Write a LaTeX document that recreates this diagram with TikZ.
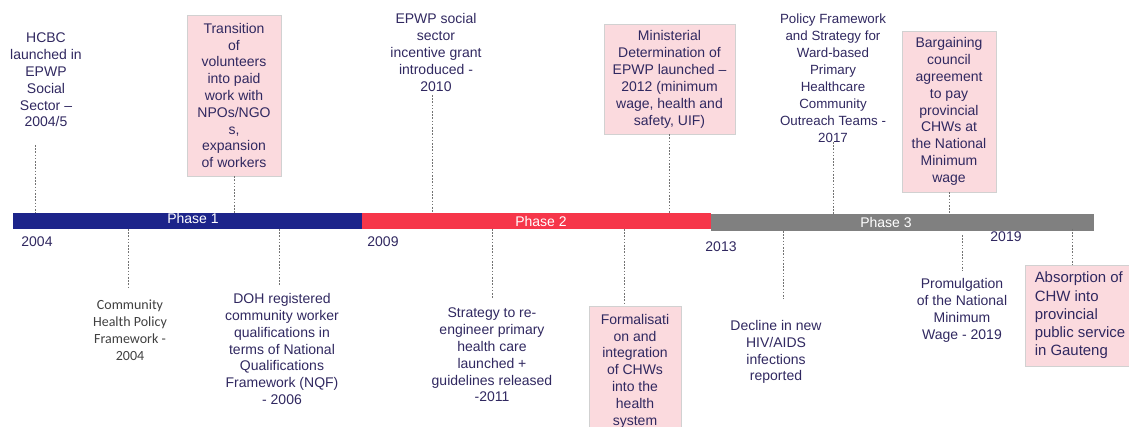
\documentclass[tikz,border=0pt]{standalone}
\usepackage{fontspec}
\setmainfont{Liberation Sans}
\newfontfamily\calfont{Carlito}
\definecolor{phaseone}{RGB}{28,36,138}
\definecolor{phasetwo}{RGB}{246,54,74}
\definecolor{phasethree}{RGB}{128,128,128}
\definecolor{evink}{RGB}{48,40,96}
\definecolor{evfill}{RGB}{251,218,222}
\begin{document}
\begin{tikzpicture}[x=0.75pt,y=-0.75pt,
  every node/.style={font=\fontsize{10.5}{12.6}\selectfont,text=evink,inner sep=0pt},
  note/.style={align=center},
  evbox/.style={draw=black!18,fill=evfill,align=center},
  bar/.style={minimum height=12pt,inner sep=0pt},
  vline/.style={draw=black!55,line width=0.6pt,dash pattern=on 1.2pt off 1.2pt}]
  \clip (0,0) rectangle (1129,427);
  \node[bar,fill=phaseone,minimum width=261.75pt] (ph1) at (187.5,221) {};
  \node[bar,fill=phasetwo,minimum width=261.75pt] (ph2) at (536.5,221) {};
  \node[bar,fill=phasethree,minimum width=287.25pt,minimum height=12.75pt] (ph3) at (902.5,222.5) {};
  \node[text=white] (lab1) at (193,218) {Phase 1};
  \node[text=white] (lab2) at (541,221) {Phase 2};
  \node[text=white] (lab3) at (886,222) {Phase 3};
  \node (y2004) at (37,242) {2004};
  \node (y2009) at (383,242) {2009};
  \node (y2013) at (721,247) {2013};
  \node (y2019) at (1006,237) {2019};
  \coordinate (t1) at (35,145); \coordinate (t3) at (432,95); \coordinate (t5) at (833,142);
  \coordinate (b7) at (128,229); \coordinate (b8) at (279,229); \coordinate (b9) at (492,229);
  \coordinate (b10) at (624,229); \coordinate (b11) at (783,231); \coordinate (b12) at (962,235);
  \coordinate (b13) at (1072,229);
  \node[note] (hcbc) at (46,80) {HCBC\\launched in\\EPWP\\Social\\Sector –\\2004/5};
  \node[evbox,minimum width=70.5pt,minimum height=120.75pt] (trans) at (234,95.5) {Transition\\of\\volunteers\\into paid\\work with\\NPOs/NGO\\s,\\expansion\\of workers};
  \node[note] (grant) at (436,52.5) {EPWP social\\sector\\incentive grant\\introduced -\\2010};
  \node[evbox,minimum width=98.25pt,minimum height=82.5pt,font=\fontsize{10.5}{12.75}\selectfont] (mind) at (669.5,79) {Ministerial\\Determination of\\EPWP launched –\\2012 (minimum\\wage, health and\\safety, UIF)};
  \node[note,font=\fontsize{10}{12.7}\selectfont] (wbpo) at (833,78) {Policy Framework\\and Strategy for\\Ward-based\\Primary\\Healthcare\\Community\\Outreach Teams -\\2017};
  \node[evbox,minimum width=70.5pt,minimum height=120.75pt] (barg) at (949,111.5) {Bargaining\\council\\agreement\\to pay\\provincial\\CHWs at\\the National\\Minimum\\wage};
  \node[note,font=\calfont\fontsize{10.5}{12.75}\selectfont,text=black!75] (chpf) at (130,330.5) {Community\\Health Policy\\Framework -\\2004};
  \node[note] (nqf) at (282,349) {DOH registered\\community worker\\qualifications in\\terms of National\\Qualifications\\Framework (NQF)\\- 2006};
  \node[note] (phc) at (492,355) {Strategy to re-\\engineer primary\\health care\\launched +\\guidelines released\\-2011};
  \node[evbox,minimum width=69pt,minimum height=97.5pt] (form) at (635,371) {Formalisati\\on and\\integration\\of CHWs\\into the\\health\\system};
  \node[note] (hiv) at (776,352) {Decline in new\\HIV/AIDS\\infections\\reported};
  \node[note] (nmw) at (962,310.5) {Promulgation\\of the National\\Minimum\\Wage - 2019};
  \node[evbox,align=left,minimum width=82.5pt,minimum height=75.75pt,font=\fontsize{11.2}{13.7}\selectfont] (gaut) at (1080,315.5) {Absorption of\\CHW into\\provincial\\public service\\in Gauteng};
  \draw[vline] (t1) -- (t1 |- ph1.north);
  \draw[vline] (trans) -- (trans |- ph1.north);
  \draw[vline] (t3) -- (t3 |- ph2.north);
  \draw[vline] (mind) -- (mind |- ph2.north);
  \draw[vline] (t5) -- (t5 |- ph3.north);
  \draw[vline] (barg) -- (barg |- ph3.north);
  \draw[vline] (b7) -- +(0,60);
  \draw[vline] (b8) -- +(0,56);
  \draw[vline] (b9) -- +(0,69);
  \draw[vline] (b10) -- (b10 |- form.north);
  \draw[vline] (b11) -- +(0,68);
  \draw[vline] (b12) -- +(0,36);
  \draw[vline] (b13) -- (b13 |- gaut.north);
\end{tikzpicture}
\end{document}
